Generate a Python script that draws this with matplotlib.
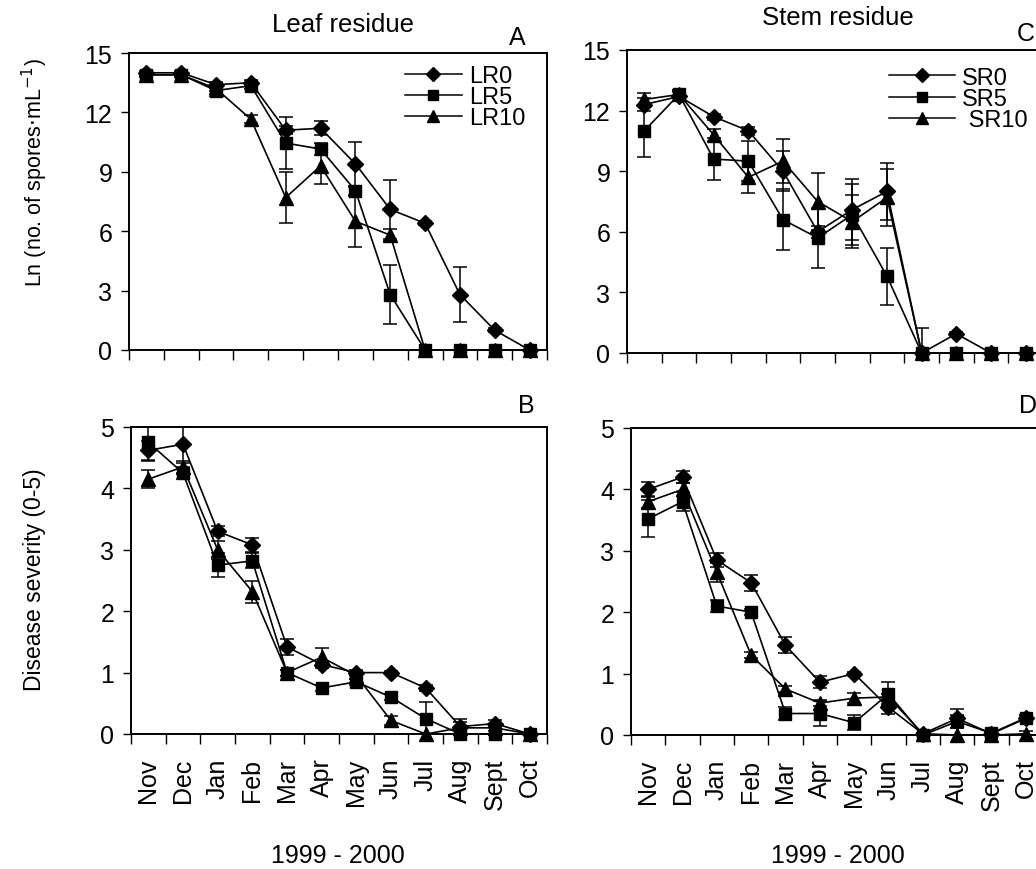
import numpy as np
import matplotlib
matplotlib.use("Agg")
import matplotlib.pyplot as plt
from matplotlib.lines import Line2D

plt.rcParams["font.family"] = ["Liberation Sans", "DejaVu Sans"]

# --------------------------------------------------
# Data
# --------------------------------------------------
months = ["Nov", "Dec", "Jan", "Feb", "Mar", "Apr", "May", "Jun",
          "Jul", "Aug", "Sept", "Oct"]

# A: leaf residue, Ln spores
lr0_sp = [14.0, 14.0, 13.4, 13.5, 11.1, 11.2, 9.4, 7.1, 6.4, 2.8, 1.0, 0]
lr0_sp_err = [0.1, 0.1, 0.15, 0.15, 0.2, 0.35, 1.1, 1.5, 0.1, 1.4, 0.1, 0]
lr5_sp = [13.9, 13.9, 13.1, 13.35, 10.45, 10.15, 8.05, 2.8, 0, 0, 0, 0]
lr5_sp_err = [0.1, 0.1, 0.15, 0.15, 1.3, 0.3, 0.2, 1.5, 0, 0, 0, 0]
lr10_sp = [13.9, 13.9, 13.2, 11.65, 7.7, 9.3, 6.5, 5.8, 0, 0, 0, 0]
lr10_sp_err = [0.1, 0.1, 0.1, 0.2, 1.3, 0.9, 1.3, 0.3, 0, 0, 0, 0]

# C: stem residue, Ln spores
sr0_sp = [12.3, 12.7, 11.7, 11.0, 9.0, 6.0, 7.1, 8.0, 0, 0.95, 0, 0]
sr0_sp_err = [0.3, 0.2, 0.15, 0.2, 1.0, 0.3, 1.5, 1.4, 0, 0.1, 0, 0]
sr5_sp = [11.0, 12.8, 9.6, 9.5, 6.6, 5.7, 6.85, 3.8, 0, 0, 0, 0]
sr5_sp_err = [1.3, 0.2, 1.05, 1.0, 1.5, 1.5, 1.5, 1.4, 0, 0, 0, 0]
sr10_sp = [12.55, 12.8, 10.8, 8.7, 9.5, 7.5, 6.5, 7.7, 0, 0, 0, 0]
sr10_sp_err = [0.3, 0.2, 0.3, 0.8, 1.1, 1.4, 1.3, 1.4, 1.25, 0, 0, 0]

# B: leaf residue, disease severity
lr0_ds = [4.62, 4.72, 3.3, 3.08, 1.42, 1.13, 1.0, 1.0, 0.75, 0.12, 0.17, 0]
lr0_ds_err = [0.15, 0.3, 0.08, 0.12, 0.13, 0.05, 0.05, 0.02, 0.05, 0.12, 0.05, 0]
lr5_ds = [4.75, 4.25, 2.75, 2.82, 1.0, 0.75, 0.85, 0.6, 0.25, 0, 0, 0]
lr5_ds_err = [0.3, 0.1, 0.2, 0.12, 0.05, 0.05, 0.05, 0.05, 0.27, 0, 0, 0]
lr10_ds = [4.15, 4.35, 3.0, 2.32, 1.0, 1.25, 0.95, 0.22, 0, 0.1, 0.1, 0]
lr10_ds_err = [0.15, 0.1, 0.15, 0.18, 0.05, 0.15, 0.05, 0.08, 0, 0.1, 0.05, 0]

# D: stem residue, disease severity
sr0_ds = [4.0, 4.2, 2.85, 2.48, 1.46, 0.86, 1.0, 0.45, 0.02, 0.27, 0.02, 0.27]
sr0_ds_err = [0.12, 0.1, 0.12, 0.13, 0.13, 0.1, 0.03, 0.1, 0.02, 0.15, 0.02, 0.05]
sr5_ds = [3.52, 3.8, 2.1, 2.0, 0.35, 0.35, 0.2, 0.67, 0, 0.22, 0.03, 0.28]
sr5_ds_err = [0.3, 0.15, 0.1, 0.05, 0.1, 0.2, 0.12, 0.2, 0, 0.1, 0.03, 0.05]
sr10_ds = [3.8, 4.0, 2.65, 1.3, 0.75, 0.52, 0.6, 0.62, 0.02, 0, 0, 0.02]
sr10_ds_err = [0.1, 0.1, 0.15, 0.05, 0.05, 0.05, 0.08, 0.05, 0, 0, 0, 0.05]

# --------------------------------------------------
# Figure layout (right panels run past the page edge, like the scan)
# --------------------------------------------------
W, H = 1036, 870
fig = plt.figure(figsize=(W / 100, H / 100), dpi=100)


def ax_at(left, top, right, bottom):
    return fig.add_axes([left / W, 1 - bottom / H, (right - left) / W, (bottom - top) / H])


axA = ax_at(129, 54, 547, 351)
axC = ax_at(627, 51, 1043, 354)
axB = ax_at(131, 428, 547, 735)
axD = ax_at(631, 429, 1043, 736)

x = np.arange(len(months))
markers = {"0": ("D", 8), "5": ("s", 9), "10": ("^", 10)}
FS = 18


def draw(ax, series, ymax, yticks, legend_names=None, legend_anchor=None,
         handle_len=2.6, show_months=False):
    for vals, err, key in series:
        m, ms = markers[key]
        vals = np.array(vals, dtype=float)
        err = np.array(err, dtype=float)
        lo = np.minimum(err, vals)
        hi = np.minimum(err, ymax - vals)
        ax.errorbar(x, vals, yerr=[lo, hi], color="black", marker=m, markersize=ms,
                    linewidth=1.2, elinewidth=1.1, capsize=5, capthick=1.1,
                    clip_on=False)
    ax.set_xlim(-0.5, 11.5)
    ax.set_ylim(0, ymax)
    ax.set_yticks(yticks)
    ax.set_xticks(x)
    ax.set_xticks(np.arange(-0.5, 12, 1), minor=True)
    ax.tick_params(axis="x", which="major", length=0, pad=17, labelsize=FS)
    ax.tick_params(axis="x", which="minor", length=7, width=1, direction="out")
    ax.tick_params(axis="y", length=6, width=1, direction="out", labelsize=FS, pad=6)
    if show_months:
        ax.set_xticklabels(months, rotation=90, va="top")
    else:
        ax.set_xticklabels([])
    for s in ax.spines.values():
        s.set_linewidth(1.4)
    if legend_names:
        handles = [
            Line2D([], [], color="black", marker="D", markersize=7, linewidth=1.1),
            Line2D([], [], color="black", marker="s", markersize=7, linewidth=1.1),
            Line2D([], [], color="black", marker="^", markersize=8.5, linewidth=1.1),
        ]
        ax.legend(handles, legend_names, loc="upper left",
                  bbox_to_anchor=legend_anchor, frameon=False, fontsize=17,
                  handlelength=handle_len, handletextpad=0.3, labelspacing=-0.03,
                  borderaxespad=0, borderpad=0)


draw(axA, [(lr10_sp, lr10_sp_err, "10"), (lr5_sp, lr5_sp_err, "5"),
           (lr0_sp, lr0_sp_err, "0")], 15, [0, 3, 6, 9, 12, 15],
     legend_names=["LR0", "LR5", "LR10"], legend_anchor=(0.66, 0.96), handle_len=2.4)
draw(axC, [(sr10_sp, sr10_sp_err, "10"), (sr5_sp, sr5_sp_err, "5"),
           (sr0_sp, sr0_sp_err, "0")], 15, [0, 3, 6, 9, 12, 15],
     legend_names=["SR0", "SR5", " SR10"], legend_anchor=(0.63, 0.945), handle_len=2.8)
draw(axB, [(lr10_ds, lr10_ds_err, "10"), (lr5_ds, lr5_ds_err, "5"),
           (lr0_ds, lr0_ds_err, "0")], 5, [0, 1, 2, 3, 4, 5], show_months=True)
draw(axD, [(sr10_ds, sr10_ds_err, "10"), (sr5_ds, sr5_ds_err, "5"),
           (sr0_ds, sr0_ds_err, "0")], 5, [0, 1, 2, 3, 4, 5], show_months=True)

# --------------------------------------------------
# Titles, panel letters, axis labels
# --------------------------------------------------
fig.text(343 / W, 1 - 25 / H, "Leaf residue", ha="center", va="center", fontsize=18.5)
fig.text(838 / W, 1 - 18 / H, "Stem residue", ha="center", va="center", fontsize=18.5)
fig.text(517 / W, 1 - 38 / H, "A", ha="center", va="center", fontsize=FS)
fig.text(1026 / W, 1 - 34 / H, "C", ha="center", va="center", fontsize=FS)
fig.text(526 / W, 1 - 406 / H, "B", ha="center", va="center", fontsize=FS)
fig.text(1028 / W, 1 - 406 / H, "D", ha="center", va="center", fontsize=FS)

fig.text(35 / W, 1 - 173 / H, r"Ln (no. of spores$\cdot$mL$^{-1}$)", rotation=90,
         ha="center", va="center", fontsize=15.5)
fig.text(35 / W, 1 - 580 / H, "Disease severity (0-5)", rotation=90,
         ha="center", va="center", fontsize=16.5)
fig.text(338 / W, 1 - 856 / H, "1999 - 2000", ha="center", va="center", fontsize=FS)
fig.text(838 / W, 1 - 856 / H, "1999 - 2000", ha="center", va="center", fontsize=FS)

plt.savefig("out.png", dpi=100)
